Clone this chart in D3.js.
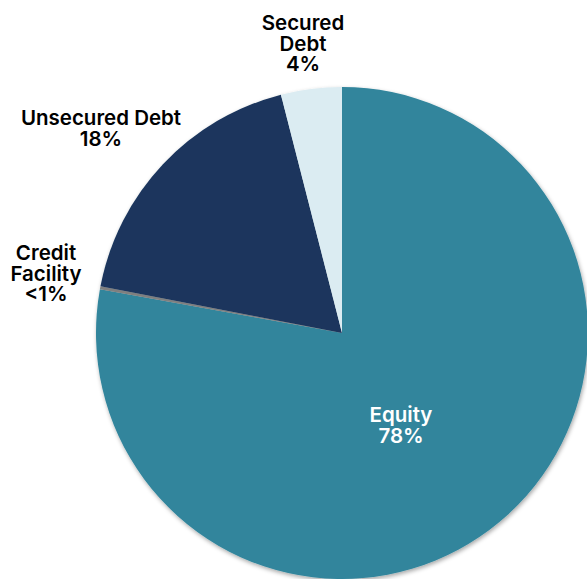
<!DOCTYPE html>
<html>
<head>
<meta charset="utf-8">
<script src="https://cdn.jsdelivr.net/npm/d3@7"></script>
<style>
  html, body { margin: 0; padding: 0; background: #ffffff; }
  svg { display: block; }
  text { font-family: "Inter", "Lato", sans-serif; font-weight: 600; }
</style>
</head>
<body>
<svg id="chart" width="587" height="579"></svg>
<script>
// Capital structure breakdown (share of total, %)
const categories = ["Equity", "Credit Facility", "Unsecured Debt", "Secured Debt"];
const values = [78, 0.2, 18, 4];
const valueLabels = ["78%", "<1%", "18%", "4%"];
const labelLines = [["Equity"], ["Credit", "Facility"], ["Unsecured Debt"], ["Secured", "Debt"]];
const colors = ["#31859c", "#7f7f7f", "#1a365d", "#dbecf2"];

const width = 587, height = 579;
const cx = 342, cy = 333, radius = 246;

const svg = d3.select("#chart");

const defs = svg.append("defs");
const shadow = defs.append("filter").attr("id", "pieShadow")
  .attr("x", "-10%").attr("y", "-10%").attr("width", "120%").attr("height", "120%");
shadow.append("feDropShadow")
  .attr("dx", 1).attr("dy", 2).attr("stdDeviation", 2.2)
  .attr("flood-color", "#000").attr("flood-opacity", 0.35);

const color = d3.scaleOrdinal().domain(categories).range(colors);

const pie = d3.pie().sort(null).value(d => d.value);
const arc = d3.arc().innerRadius(0).outerRadius(radius);

const data = categories.map((c, i) => ({ name: c, value: values[i], label: valueLabels[i], lines: labelLines[i] }));
const arcs = pie(data);

const g = svg.append("g").attr("transform", `translate(${cx},${cy})`);

g.append("g").attr("filter", "url(#pieShadow)")
  .selectAll("path")
  .data(arcs)
  .join("path")
  .attr("d", arc)
  .attr("fill", d => color(d.data.name));

// Label anchors (centre x, first baseline y) per slice
const labelPos = {
  "Equity": { x: 401, y: 422, fill: "#ffffff" },
  "Credit Facility": { x: 46, y: 260, fill: "#000000" },
  "Unsecured Debt": { x: 101, y: 125, fill: "#000000" },
  "Secured Debt": { x: 303, y: 30, fill: "#000000" }
};
const lineHeight = 20.7;

const labels = svg.append("g").selectAll("text")
  .data(data)
  .join("text")
  .attr("text-anchor", "middle")
  .attr("font-size", 20.5)
  .attr("fill", d => labelPos[d.name].fill)
  .attr("x", d => labelPos[d.name].x)
  .attr("y", d => labelPos[d.name].y);

labels.each(function(d) {
  const t = d3.select(this);
  const rows = d.lines.concat([d.label]);
  rows.forEach((row, i) => {
    t.append("tspan")
      .attr("x", labelPos[d.name].x)
      .attr("dy", i === 0 ? 0 : lineHeight)
      .text(row);
  });
});
</script>
</body>
</html>
